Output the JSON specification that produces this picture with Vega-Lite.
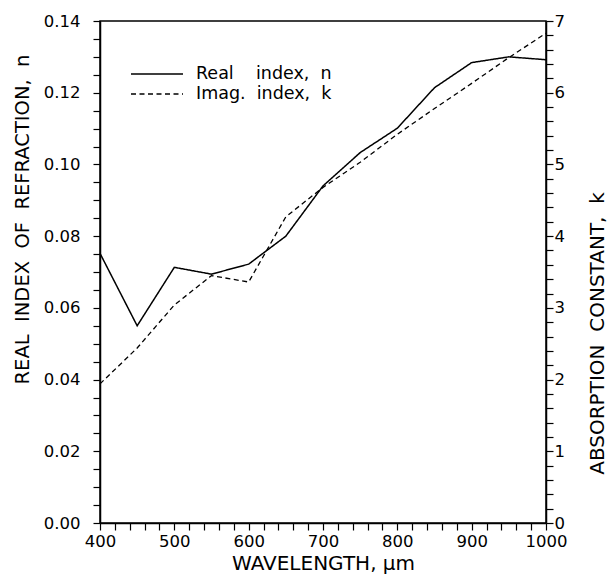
{
  "$schema": "https://vega.github.io/schema/vega-lite/v6.json",
  "width": 446,
  "height": 502,
  "autosize": "none",
  "padding": {"left": 100, "top": 21, "right": 68, "bottom": 54},
  "background": "white",
  "config": {
    "font": "DejaVu Sans",
    "view": {"stroke": "black", "strokeWidth": 1.5},
    "axis": {
      "grid": false,
      "domainColor": "black",
      "domainWidth": 1.5,
      "tickColor": "black",
      "tickWidth": 1.2,
      "tickSize": 7,
      "labelColor": "black",
      "labelFontSize": 16.5,
      "labelFont": "DejaVu Sans",
      "titleColor": "black",
      "titleFont": "DejaVu Sans",
      "titleFontSize": 20,
      "titleFontWeight": "normal",
      "labelOverlap": false,
      "labelFlush": false
    }
  },
  "data": {
    "values": [
      {"wl": 400, "series": "Real index, n", "v": 0.0752},
      {"wl": 450, "series": "Real index, n", "v": 0.0550},
      {"wl": 500, "series": "Real index, n", "v": 0.0713},
      {"wl": 550, "series": "Real index, n", "v": 0.0694},
      {"wl": 600, "series": "Real index, n", "v": 0.0722},
      {"wl": 650, "series": "Real index, n", "v": 0.0800},
      {"wl": 700, "series": "Real index, n", "v": 0.0940},
      {"wl": 750, "series": "Real index, n", "v": 0.1033},
      {"wl": 800, "series": "Real index, n", "v": 0.1101},
      {"wl": 850, "series": "Real index, n", "v": 0.1214},
      {"wl": 900, "series": "Real index, n", "v": 0.1284},
      {"wl": 950, "series": "Real index, n", "v": 0.1300},
      {"wl": 1000, "series": "Real index, n", "v": 0.1292},
      {"wl": 400, "series": "Imag. index, k", "v": 1.94},
      {"wl": 450, "series": "Imag. index, k", "v": 2.44},
      {"wl": 500, "series": "Imag. index, k", "v": 3.04},
      {"wl": 550, "series": "Imag. index, k", "v": 3.45},
      {"wl": 600, "series": "Imag. index, k", "v": 3.36},
      {"wl": 650, "series": "Imag. index, k", "v": 4.27},
      {"wl": 700, "series": "Imag. index, k", "v": 4.68},
      {"wl": 750, "series": "Imag. index, k", "v": 5.03},
      {"wl": 800, "series": "Imag. index, k", "v": 5.42},
      {"wl": 850, "series": "Imag. index, k", "v": 5.78},
      {"wl": 900, "series": "Imag. index, k", "v": 6.13},
      {"wl": 950, "series": "Imag. index, k", "v": 6.49},
      {"wl": 1000, "series": "Imag. index, k", "v": 6.83}
    ]
  },
  "encoding": {
    "x": {
      "field": "wl",
      "type": "quantitative",
      "scale": {"domain": [400, 1000], "nice": false, "zero": false},
      "axis": {
        "title": "WAVELENGTH, µm",
        "values": [400,420,440,460,480,500,520,540,560,580,600,620,640,660,680,700,720,740,760,780,800,820,840,860,880,900,920,940,960,980,1000],
        "labelExpr": "datum.value % 100 == 0 ? format(datum.value, 'd') : ''",
        "labelPadding": 3,
        "titlePadding": 4
      }
    },
    "strokeDash": {
      "field": "series",
      "type": "nominal",
      "scale": {"domain": ["Real index, n", "Imag. index, k"], "range": [[1, 0], [5, 3.5]]},
      "legend": {
        "title": null,
        "orient": "none",
        "legendX": 30,
        "legendY": 43,
        "padding": 0,
        "symbolType": "stroke",
        "symbolSize": 2704,
        "symbolStrokeColor": "black",
        "symbolStrokeWidth": 1.3,
        "clipHeight": 20,
        "rowPadding": 0,
        "labelFont": "DejaVu Sans",
        "labelFontSize": 17.5,
        "labelColor": "black",
        "labelOffset": 12,
        "labelExpr": "datum.label == 'Real index, n' ? 'Real\u00a0\u00a0\u00a0\u00a0index,\u00a0\u00a0n' : 'Imag.\u00a0\u00a0index,\u00a0\u00a0k'"
      }
    }
  },
  "layer": [
    {
      "transform": [{"filter": "datum.series == 'Real index, n'"}],
      "mark": {"type": "line", "color": "black", "strokeWidth": 1.5},
      "encoding": {
        "y": {
          "field": "v",
          "type": "quantitative",
          "scale": {"domain": [0, 0.14], "nice": false},
          "axis": {
            "orient": "left",
            "title": "REAL\u00a0\u00a0INDEX\u00a0\u00a0OF\u00a0\u00a0REFRACTION,\u00a0\u00a0n",
            "titleFontSize": 19.5,
            "titleY": 198,
            "values": [0,0.005,0.01,0.015,0.02,0.025,0.03,0.035,0.04,0.045,0.05,0.055,0.06,0.065,0.07,0.075,0.08,0.085,0.09,0.095,0.1,0.105,0.11,0.115,0.12,0.125,0.13,0.135,0.14],
            "labelExpr": "round(datum.value * 1000) % 20 == 0 ? format(datum.value, '.2f') : ''",
            "labelPadding": 13,
            "titlePadding": 11
          }
        }
      }
    },
    {
      "transform": [{"filter": "datum.series == 'Imag. index, k'"}],
      "mark": {"type": "line", "color": "black", "strokeWidth": 1.3},
      "encoding": {
        "y": {
          "field": "v",
          "type": "quantitative",
          "scale": {"domain": [0, 7], "nice": false},
          "axis": {
            "orient": "right",
            "title": "ABSORPTION\u00a0\u00a0CONSTANT,\u00a0\u00a0k",
            "titleAngle": 270,
            "titleY": 312,
            "values": [0,0.2,0.4,0.6,0.8,1,1.2,1.4,1.6,1.8,2,2.2,2.4,2.6,2.8,3,3.2,3.4,3.6,3.8,4,4.2,4.4,4.6,4.8,5,5.2,5.4,5.6,5.8,6,6.2,6.4,6.6,6.8,7],
            "labelExpr": "round(datum.value * 10) % 10 == 0 ? format(datum.value, 'd') : ''",
            "labelPadding": 1,
            "titlePadding": 43
          }
        }
      }
    }
  ],
  "resolve": {"scale": {"y": "independent"}}
}
